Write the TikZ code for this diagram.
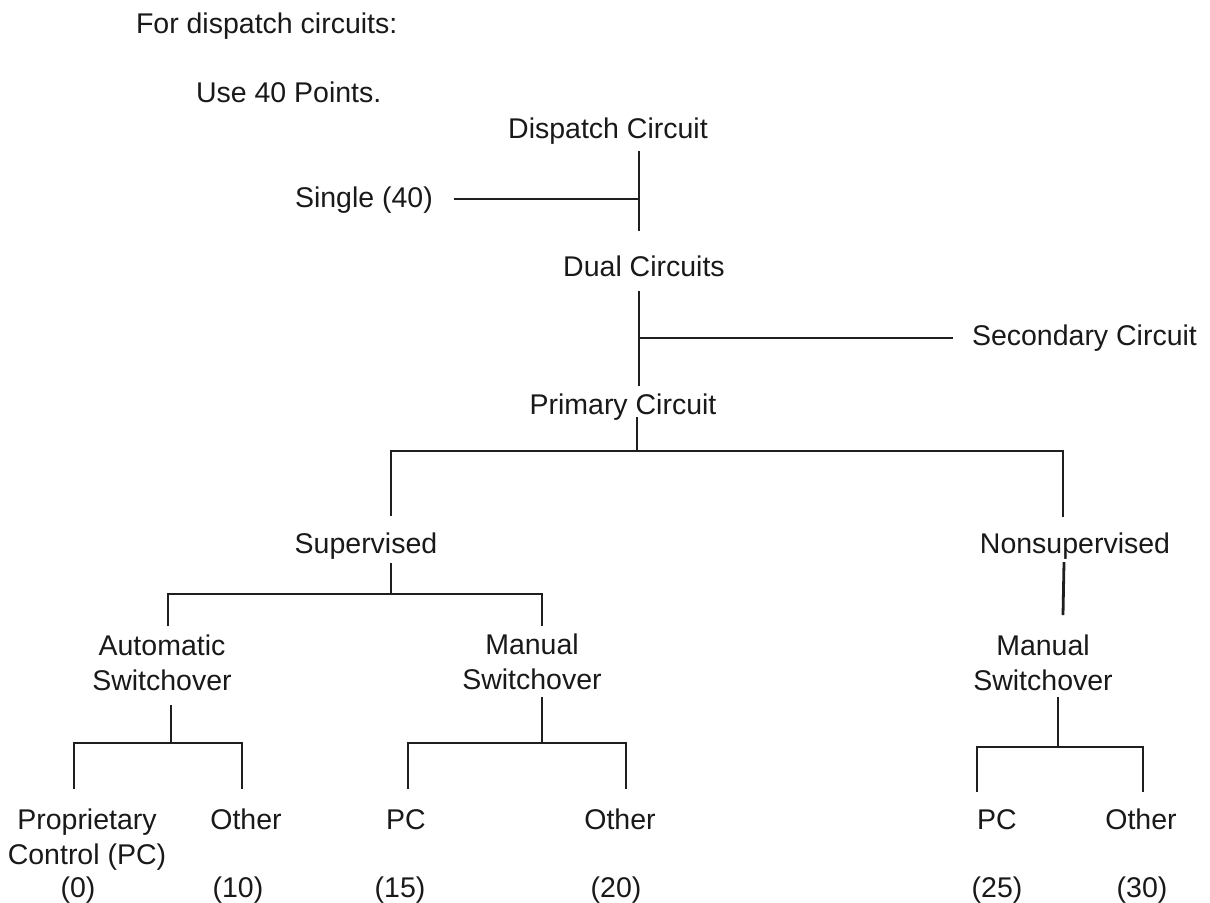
\documentclass[tikz,border=0pt]{standalone}
\usepackage{fontspec}
\setmainfont{Liberation Sans}
\newcommand{\twol}[2]{\begin{tabular}[t]{@{}c@{}}#1\\#2\end{tabular}}
\begin{document}
\begin{tikzpicture}[x=0.5pt,y=-0.5pt,
  lbl/.style={inner sep=0pt,outer sep=0pt,text=black!90,font=\fontsize{14.25}{17.5}\selectfont},
  conn/.style={line width=1.4pt,draw=black!88}]
\useasboundingbox (0,0) rectangle (1210,902);
% texts
\node[lbl,anchor=base west] (title) at (136,33) {For dispatch circuits:};
\node[lbl,anchor=base west] (use) at (196,102) {Use 40 Points.};
\node[lbl,anchor=base] (disp) at (608,138) {Dispatch Circuit};
\node[lbl,anchor=base west] (single) at (295,207) {Single (40)};
\node[lbl,anchor=base] (dual) at (644,276) {Dual Circuits};
\node[lbl,anchor=base west] (sec) at (972,345) {Secondary Circuit};
\node[lbl,anchor=base] (prim) at (623,414) {Primary Circuit};
\node[lbl,anchor=base] (sup) at (366,553) {Supervised};
\node[lbl,anchor=base] (nonsup) at (1075,553) {Nonsupervised};
\node[lbl,anchor=base] (auto) at (162,655) {\twol{Automatic}{Switchover}};
\node[lbl,anchor=base] (man1) at (532,654) {\twol{Manual}{Switchover}};
\node[lbl,anchor=base] (man2) at (1043,655) {\twol{Manual}{Switchover}};
\node[lbl,anchor=base] (prop) at (87,829) {\twol{Proprietary}{Control (PC)}};
\node[lbl,anchor=base] (oth1) at (246,829) {Other};
\node[lbl,anchor=base] (pc1) at (406,829) {PC};
\node[lbl,anchor=base] (oth2) at (620,829) {Other};
\node[lbl,anchor=base] (pc2) at (997,829) {PC};
\node[lbl,anchor=base] (oth3) at (1141,829) {Other};
\node[lbl,anchor=base] (v0) at (78,897) {(0)};
\node[lbl,anchor=base] (v10) at (238,897) {(10)};
\node[lbl,anchor=base] (v15) at (400,897) {(15)};
\node[lbl,anchor=base] (v20) at (616,897) {(20)};
\node[lbl,anchor=base] (v25) at (997,897) {(25)};
\node[lbl,anchor=base] (v30) at (1142,897) {(30)};
% connector points
\coordinate (dispT) at (639,151);
\coordinate (dispB) at (639,231);
\coordinate (singR) at (454,199);
\coordinate (singJ) at (639,199);
\coordinate (dualT) at (639,291);
\coordinate (dualB) at (639,386);
\coordinate (secJ) at (639,338);
\coordinate (secL) at (953,338);
\coordinate (primT) at (637,417);
\coordinate (primJ) at (637,451);
\coordinate (supTop) at (391,516);
\coordinate (nonTop) at (1063,517);
\coordinate (supT) at (391,563);
\coordinate (supJ) at (391,594);
\coordinate (autoTop) at (168,626);
\coordinate (man1Top) at (542,626);
\coordinate (nonT) at (1064,562);
\coordinate (man2Top) at (1063,615);
\coordinate (autoT) at (171,705);
\coordinate (autoJ) at (171,743);
\coordinate (propTop) at (74,789);
\coordinate (oth1Top) at (242,789);
\coordinate (man1T) at (542,697);
\coordinate (man1J) at (542,743);
\coordinate (pc1Top) at (408,789);
\coordinate (oth2Top) at (626,789);
\coordinate (man2T) at (1058,697);
\coordinate (man2J) at (1058,747);
\coordinate (pc2Top) at (977,792);
\coordinate (oth3Top) at (1143,792);
% connectors
\draw[conn] (dispT) -- (dispB);
\draw[conn] (singR) -- (singJ);
\draw[conn] (dualT) -- (dualB);
\draw[conn] (secJ) -- (secL);
\draw[conn] (primT) -- (primJ);
\draw[conn] (supTop) |- (primJ) -| (nonTop);
\draw[conn] (supT) -- (supJ);
\draw[conn] (autoTop) |- (supJ) -| (man1Top);
\draw[conn] (nonT) -- (man2Top);
\draw[conn] (autoT) -- (autoJ);
\draw[conn] (propTop) |- (autoJ) -| (oth1Top);
\draw[conn] (man1T) -- (man1J);
\draw[conn] (pc1Top) |- (man1J) -| (oth2Top);
\draw[conn] (man2T) -- (man2J);
\draw[conn] (pc2Top) |- (man2J) -| (oth3Top);
\end{tikzpicture}
\end{document}
